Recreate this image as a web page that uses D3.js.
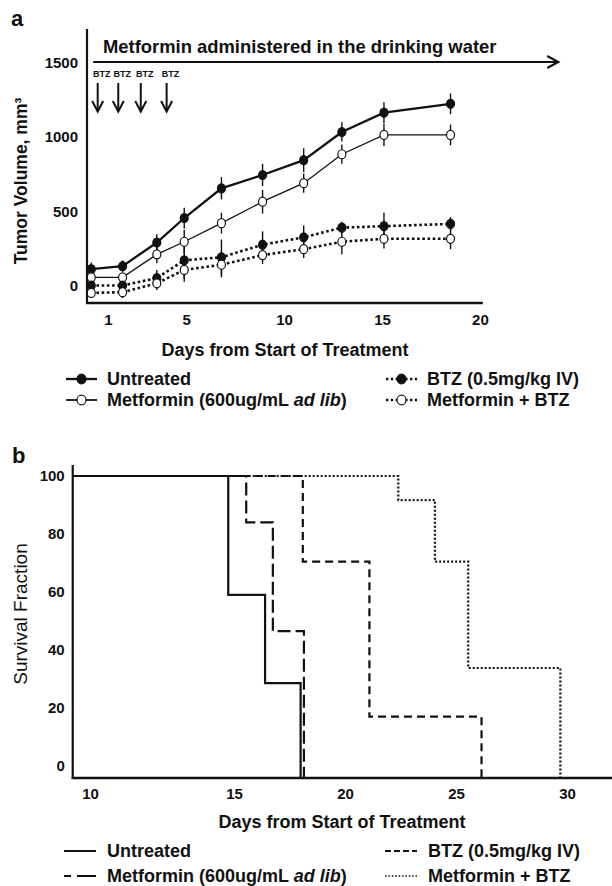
<!DOCTYPE html>
<html>
<head>
<meta charset="utf-8">
<script src="https://cdn.jsdelivr.net/npm/d3@7"></script>
<style>
  body { margin: 0; background: #fff; }
  svg { display: block; font-family: "Liberation Sans", Arial, sans-serif; }
</style>
</head>
<body>
<div class="chart-wrapper"></div>
<script>
// ---- panel a: tumor volume (mm3) by day ----
const volumeDays = [0.15, 1.75, 3.5, 4.9, 6.8, 8.9, 11, 12.95, 15.1, 18.5];
const untreatedVol = [110, 130, 290, 455, 655, 745, 845, 1035, 1165, 1225];
const untreatedErr = [45, 40, 55, 70, 75, 75, 80, 65, 70, 70];
const metforminVol = [55, 55, 210, 295, 420, 565, 690, 885, 1015, 1015];
const metforminErr = [30, 30, 60, 80, 70, 80, 65, 65, 75, 70];
const btzVol = [0, 0, 50, 170, 190, 275, 325, 390, 400, 415];
const btzErr = [30, 30, 55, 125, 120, 90, 80, 40, 90, 47];
const metBtzVol = [-50, -45, 15, 105, 140, 205, 245, 295, 315, 315];
const metBtzErr = [25, 40, 45, 80, 85, 60, 60, 85, 65, 70];

const btzDoseDays = [0.48, 1.53, 2.68, 4.0];
const metforminSpan = [0.25, 24];
const volumeTicks = [0, 500, 1000, 1500];
const dayTicksA = [1, 5, 10, 15, 20];

// ---- panel b: survival fraction (%) ----
const survivalTicks = [0, 20, 40, 60, 80, 100];
const dayTicksB = [10, 15, 20, 25, 30];
const survivalStart = 9.4;
const untreatedEvents = [14.8, 16.4, 18.0];
const untreatedSurv = [59, 28.6, 0];
const metforminEvents = [15.55, 16.75, 18.15];
const metforminSurv = [84, 46.5, 0];
const btzEvents = [18.1, 21.1, 26.15];
const btzSurv = [70.5, 17, 0];
const metBtzEvents = [22.4, 24.05, 25.55, 29.7];
const metBtzSurv = [91.7, 70.5, 33.8, 0];

const groupNames = ["Untreated", "Metformin (600ug/mL ad lib)", "BTZ (0.5mg/kg IV)", "Metformin + BTZ"];

const svg = d3.select(".chart-wrapper")
  .append("svg")
  .attr("width", 612)
  .attr("height", 886);

const ink = "#111";

// small helper for the bold labels
function label(g, x, y, txt, size, opts = {}) {
  return g.append("text")
    .attr("x", x)
    .attr("y", y)
    .attr("font-size", size)
    .attr("font-weight", opts.weight || "bold")
    .attr("text-anchor", opts.anchor || "start")
    .attr("fill", ink)
    .text(txt);
}

/* ================= panel a ================= */
const xA = d3.scaleLinear().domain([0, 20]).range([88.3, 479.9]);
const yA = d3.scaleLinear().domain([0, 1500]).range([285.5, 63]);

const gA = svg.append("g");

label(gA, 11, 26, "a", 22);

// tick labels via d3 axes, domain lines drawn by hand
const yAxisA = gA.append("g")
  .attr("transform", "translate(87,0)")
  .call(d3.axisLeft(yA).tickValues(volumeTicks).tickFormat(d3.format("d")).tickSize(0).tickPadding(9));
const xAxisA = gA.append("g")
  .attr("transform", "translate(0,303)")
  .call(d3.axisBottom(xA).tickValues(dayTicksA).tickFormat(d3.format("d")).tickSize(0).tickPadding(11));
[yAxisA, xAxisA].forEach(ax => {
  ax.select(".domain").remove();
  ax.selectAll("text").attr("font-size", 15).attr("font-weight", "bold")
    .attr("font-family", "Liberation Sans, Arial, sans-serif").attr("fill", ink);
});

gA.append("line")
  .attr("x1", 87).attr("x2", 87)
  .attr("y1", yA(1730)).attr("y2", yA(-120))
  .attr("stroke", ink).attr("stroke-width", 2.2);
gA.append("line")
  .attr("x1", 86).attr("x2", xA(20.15))
  .attr("y1", 303).attr("y2", 303)
  .attr("stroke", ink).attr("stroke-width", 2.6);

// axis titles
label(gA, 0, 0, "Tumor Volume, mm\u00b3", 17.5, { anchor: "middle" })
  .attr("transform", "translate(27,181) rotate(-90)");
label(gA, 285, 356, "Days from Start of Treatment", 18, { anchor: "middle" });

// metformin arrow
const arrowY = 62;
gA.append("line")
  .attr("x1", xA(metforminSpan[0])).attr("x2", xA(metforminSpan[1]))
  .attr("y1", arrowY).attr("y2", arrowY)
  .attr("stroke", ink).attr("stroke-width", 2.2);
gA.append("path")
  .attr("d", `M${xA(metforminSpan[1]) - 11},${arrowY - 6}L${xA(metforminSpan[1])},${arrowY}L${xA(metforminSpan[1]) - 11},${arrowY + 6}`)
  .attr("fill", "none").attr("stroke", ink).attr("stroke-width", 2.2);
label(gA, 103, 53, "Metformin administered in the drinking water", 18.4);

// BTZ dose arrows
btzDoseDays.forEach(d => {
  const x = xA(d);
  label(gA, x + 4, 77, "BTZ", 9, { anchor: "middle" });
  gA.append("line")
    .attr("x1", x).attr("x2", x).attr("y1", 83).attr("y2", 111)
    .attr("stroke", ink).attr("stroke-width", 2);
  gA.append("path")
    .attr("d", `M${x - 5.5},${101}L${x},${111.5}L${x + 5.5},${101}`)
    .attr("fill", "none").attr("stroke", ink).attr("stroke-width", 2);
});

const volSeries = [
  { vals: untreatedVol, errs: untreatedErr, filled: true, width: 2.3, dash: null },
  { vals: metforminVol, errs: metforminErr, filled: false, width: 1.3, dash: null },
  { vals: btzVol, errs: btzErr, filled: true, width: 2.6, dash: "2.6,2.6" },
  { vals: metBtzVol, errs: metBtzErr, filled: false, width: 2.6, dash: "2.6,2.6" }
];

const lineA = d3.line()
  .x((d, i) => xA(volumeDays[i]))
  .y(d => yA(d));

volSeries.forEach(s => {
  gA.append("path")
    .datum(s.vals)
    .attr("d", lineA)
    .attr("fill", "none")
    .attr("stroke", ink)
    .attr("stroke-width", s.width)
    .attr("stroke-dasharray", s.dash);

  // error bars
  gA.selectAll(null)
    .data(s.vals)
    .enter()
    .append("line")
    .attr("x1", (d, i) => xA(volumeDays[i]))
    .attr("x2", (d, i) => xA(volumeDays[i]))
    .attr("y1", (d, i) => yA(d + s.errs[i]))
    .attr("y2", (d, i) => yA(d - s.errs[i]))
    .attr("stroke", ink)
    .attr("stroke-width", 1.4);
});

volSeries.forEach(s => {
  gA.selectAll(null)
    .data(s.vals)
    .enter()
    .append("ellipse")
    .attr("cx", (d, i) => xA(volumeDays[i]))
    .attr("cy", d => yA(d))
    .attr("rx", 4)
    .attr("ry", 4.5)
    .attr("fill", s.filled ? ink : "#fff")
    .attr("stroke", ink)
    .attr("stroke-width", 1.2);
});

// legend a
const legendA = [
  { x: 66, y: 385, s: volSeries[0], text: groupNames[0] },
  { x: 66, y: 406, s: volSeries[1], text: groupNames[1] },
  { x: 386, y: 385, s: volSeries[2], text: groupNames[2] },
  { x: 386, y: 406, s: volSeries[3], text: groupNames[3] }
];

function legendText(g, x, y, txt) {
  const t = label(g, x, y, "", 18);
  if (txt.includes("ad lib")) {
    const parts = txt.split("ad lib");
    t.append("tspan").text(parts[0]);
    t.append("tspan").attr("font-style", "italic").text("ad lib");
    t.append("tspan").text(parts[1]);
  } else {
    t.text(txt);
  }
}

legendA.forEach(e => {
  const cy = e.y - 6;
  gA.append("line")
    .attr("x1", e.x).attr("x2", e.x + 31)
    .attr("y1", cy).attr("y2", cy)
    .attr("stroke", ink)
    .attr("stroke-width", e.s.dash ? 2.4 : Math.max(e.s.width, 1.8))
    .attr("stroke-dasharray", e.s.dash ? "2.4,2.4" : null);
  gA.append("ellipse")
    .attr("cx", e.x + 15.5).attr("cy", cy)
    .attr("rx", 4.5).attr("ry", 4.8)
    .attr("fill", e.s.filled ? ink : "#fff")
    .attr("stroke", ink).attr("stroke-width", 1.2);
  legendText(gA, e.x + 41, e.y, e.text);
});

/* ================= panel b ================= */
const xB = d3.scaleLinear().domain([10, 15, 30]).range([90, 234, 567]);
const yB = d3.scaleLinear().domain([0, 100]).range([766, 476]);
const axisYB = 778;

const gB = svg.append("g");
label(gB, 12, 463, "b", 22);

const yAxisB = gB.append("g")
  .attr("transform", `translate(${xB(survivalStart)},0)`)
  .call(d3.axisLeft(yB).tickValues(survivalTicks).tickFormat(d3.format("d")).tickSize(0).tickPadding(8));
const xAxisB = gB.append("g")
  .attr("transform", `translate(0,${axisYB})`)
  .call(d3.axisBottom(xB).tickValues(dayTicksB).tickFormat(d3.format("d")).tickSize(0).tickPadding(10));
[yAxisB, xAxisB].forEach(ax => {
  ax.select(".domain").remove();
  ax.selectAll("text").attr("font-size", 15).attr("font-weight", "bold")
    .attr("font-family", "Liberation Sans, Arial, sans-serif").attr("fill", ink);
});

gB.append("line")
  .attr("x1", xB(survivalStart)).attr("x2", xB(survivalStart))
  .attr("y1", 465).attr("y2", axisYB + 1)
  .attr("stroke", ink).attr("stroke-width", 2.2);
gB.append("line")
  .attr("x1", xB(survivalStart) - 1).attr("x2", 612)
  .attr("y1", axisYB).attr("y2", axisYB)
  .attr("stroke", ink).attr("stroke-width", 2.6);

label(gB, 0, 0, "Survival Fraction", 19, { anchor: "middle", weight: "normal" })
  .attr("transform", "translate(27,614) rotate(-90)");
label(gB, 342, 828, "Days from Start of Treatment", 18, { anchor: "middle" });

const survSeries = [
  { events: untreatedEvents, surv: untreatedSurv, dash: null },
  { events: metforminEvents, surv: metforminSurv, dash: "13,5" },
  { events: btzEvents, surv: btzSurv, dash: "8,5" },
  { events: metBtzEvents, surv: metBtzSurv, dash: "2,2" }
];

const stepLine = d3.line()
  .x(d => xB(d[0]))
  .y(d => d[1] === 0 ? axisYB : yB(d[1]))
  .curve(d3.curveStepAfter);

// draw dotted/dashed first so the solid line sits on top
survSeries.slice().reverse().forEach(s => {
  const pts = [[survivalStart, 100]].concat(s.events.map((t, i) => [t, s.surv[i]]));
  gB.append("path")
    .datum(pts)
    .attr("d", stepLine)
    .attr("fill", "none")
    .attr("stroke", ink)
    .attr("stroke-width", 2.2)
    .attr("stroke-dasharray", s.dash);
});

// legend b
const legendB = [
  { x: 64, y: 857, s: survSeries[0], text: groupNames[0] },
  { x: 64, y: 882, s: survSeries[1], text: groupNames[1] },
  { x: 385, y: 857, s: survSeries[2], text: groupNames[2] },
  { x: 385, y: 882, s: survSeries[3], text: groupNames[3] }
];
const legendDash = [null, "7,6,20", "6,3", "1.6,1.8"];

legendB.forEach((e, i) => {
  const cy = e.y - 6;
  gB.append("line")
    .attr("x1", e.x).attr("x2", e.x + 32)
    .attr("y1", cy).attr("y2", cy)
    .attr("stroke", ink)
    .attr("stroke-width", i === 3 ? 1.6 : 2)
    .attr("stroke-dasharray", legendDash[i]);
  legendText(gB, e.x + 43, e.y, e.text);
});
</script>
</body>
</html>
